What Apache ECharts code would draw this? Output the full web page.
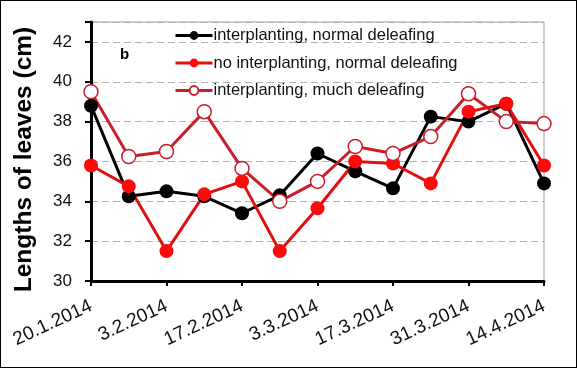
<!DOCTYPE html>
<html>
<head>
<meta charset="utf-8">
<script src="https://cdn.jsdelivr.net/npm/echarts@6/dist/echarts.min.js"></script>
<style>
html,body{margin:0;padding:0;background:#fff;}
#c{width:577px;height:368px;box-sizing:border-box;border:1px solid #000;}
</style>
</head>
<body>
<div id="c"></div>
<script>
const dates = ['20.1.2014','27.1.2014','3.2.2014','10.2.2014','17.2.2014','24.2.2014','3.3.2014','10.3.2014','17.3.2014','24.3.2014','31.3.2014','7.4.2014','14.4.2014'];
const interNormal = [38.8, 34.25, 34.5, 34.25, 33.4, 34.3, 36.4, 35.5, 34.65, 38.25, 38.0, 38.9, 34.9];
const noInterNormal = [35.8, 34.75, 31.5, 34.35, 35.0, 31.5, 33.65, 36.0, 35.9, 34.9, 38.5, 38.9, 35.8];
const interMuch = [39.5, 36.25, 36.5, 38.5, 35.65, 34.0, 35.0, 36.75, 36.4, 37.25, 39.4, 38.0, 37.9];
const names = ['interplanting, normal deleafing','no interplanting, normal deleafing','interplanting, much deleafing'];

const chart = echarts.init(document.getElementById('c'));
chart.setOption({
  animation: false,
  backgroundColor: '#fff',
  textStyle: {fontFamily: 'Liberation Sans, Arial, sans-serif'},
  grid: {left: 90, right: 32, top: 21, bottom: 86, show: true, borderColor: '#a0a0a0', borderWidth: 1},
  legend: {
    orient: 'vertical', left: 168, top: 21, itemGap: 10.5, itemWidth: 37, itemHeight: 11,
    lineStyle: {width: 3},
    textStyle: {fontSize: 16.5, color: '#111', fontFamily: 'Liberation Sans, Arial, sans-serif', padding: [0, 0, 0, -4]},
    data: names
  },
  graphic: [{type: 'text', left: 119, top: 46, style: {text: 'b', font: 'bold 15px Liberation Sans, Arial', fill: '#000'}}],
  xAxis: {
    type: 'category', data: dates, boundaryGap: false,
    axisLine: {lineStyle: {color: '#000', width: 3}},
    axisTick: {interval: 1, length: 5, lineStyle: {color: '#000', width: 2}},
    axisLabel: {interval: 1, rotate: 25, fontSize: 19, color: '#111', margin: 24},
    splitLine: {show: false}
  },
  yAxis: {
    type: 'value', min: 30, max: 43, interval: 2,
    name: 'Lengths of leaves (cm)', nameLocation: 'middle', nameGap: 54,
    nameTextStyle: {fontSize: 24.5, fontWeight: 'bold', color: '#000', padding: [0, 0, 0, -16]},
    axisLine: {show: true, lineStyle: {color: '#000', width: 3}},
    axisTick: {show: true, length: 6, lineStyle: {color: '#000', width: 2}},
    axisLabel: {fontSize: 17, color: '#111', margin: 19, formatter: v => (v % 2 === 0 ? String(v) : '')},
    splitLine: {show: true, lineStyle: {color: '#b0b0b0', type: [7, 4], width: 1}}
  },
  series: [
    {name: names[0], type: 'line', data: interNormal, symbol: 'circle', symbolSize: 14,
     lineStyle: {color: '#000', width: 3}, itemStyle: {color: '#000'}},
    {name: names[1], type: 'line', data: noInterNormal, symbol: 'circle', symbolSize: 14,
     lineStyle: {color: '#e01010', width: 3}, itemStyle: {color: '#ff0a0a'}},
    {name: names[2], type: 'line', data: interMuch, symbol: 'circle', symbolSize: 14,
     lineStyle: {color: '#c8202a', width: 3}, itemStyle: {color: '#fff', borderColor: '#c8202a', borderWidth: 1.5}}
  ]
});
</script>
</body>
</html>
